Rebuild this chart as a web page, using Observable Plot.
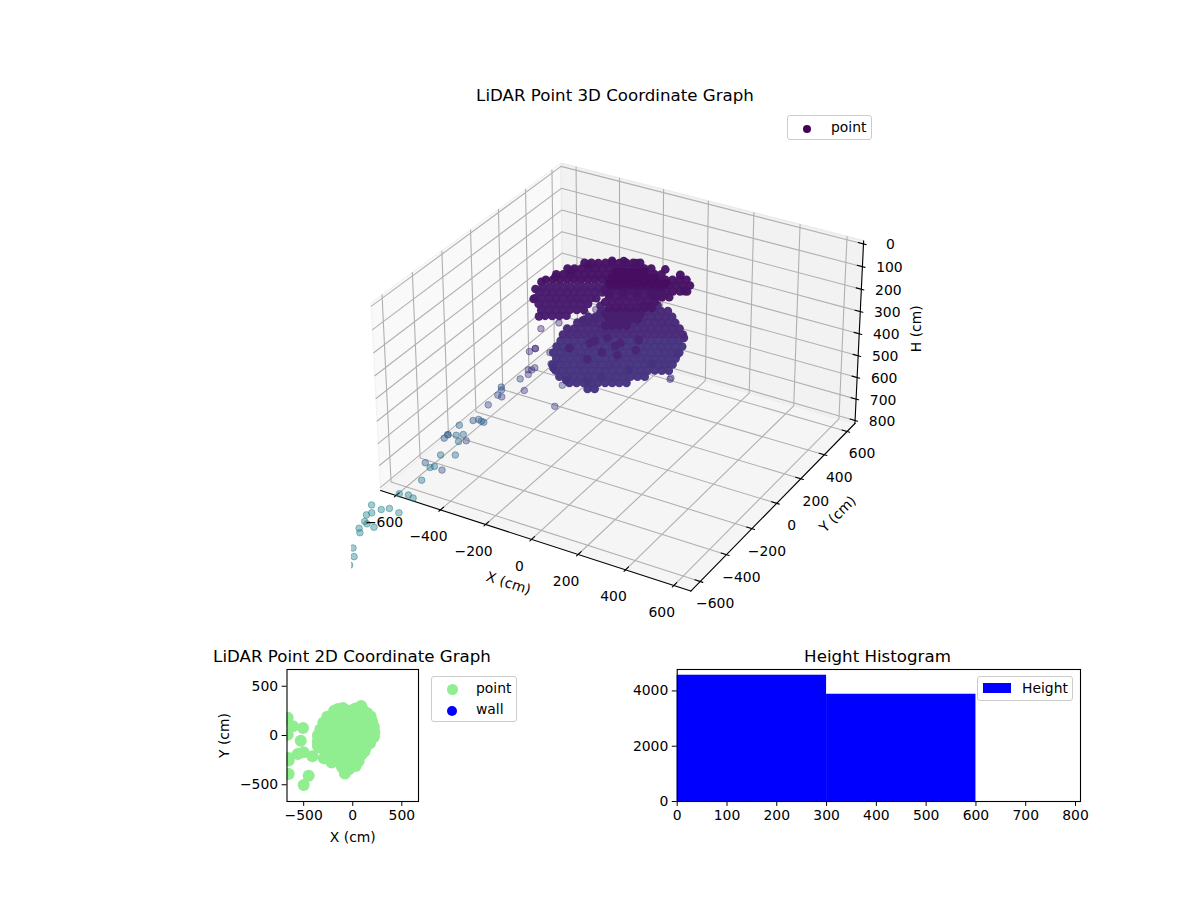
<!DOCTYPE html>
<html><head><meta charset="utf-8">
<script src="https://cdn.jsdelivr.net/npm/d3@7"></script>
<script src="https://cdn.jsdelivr.net/npm/@observablehq/plot@0.6"></script>
<style>
body{margin:0;background:#fff;font-family:"DejaVu Sans",sans-serif;color:#000}
#page{position:relative;width:1200px;height:900px;overflow:hidden}
#page svg{position:absolute;background:none}
.t{position:absolute;white-space:nowrap;transform:translate(-50%,-50%)}
.title{font-size:16.67px}
.lg{position:absolute;background:#fff;border:1px solid #ccc;border-radius:3px;box-sizing:border-box}
.lg span,.lg i{position:absolute}
.lg span{font-size:13.9px;line-height:14px;white-space:nowrap}
.lg i{display:block;border-radius:50%}
</style></head><body><div id="page"></div>
<script>
// ---------- values ----------
const xTicks=[-600,-400,-200,0,200,400,600];
const yTicks=[-600,-400,-200,0,200,400,600];
const hTicks=[0,100,200,300,400,500,600,700,800];
const histEdges=[0,300,600];
const histCounts=[4568,3880];
const hist2Dticks=[-500,0,500];

// isolated returns: [X, Y, H]
const outliers=[[-1258,77,1500],[-1203,68,1500],[-1178,92,1500],[-1125,84,1500],[-1233,3,1500],[-1223,27,1500],[-1211,-42,1500],[-1193,-52,1500],[-1153,-59,1500],[-1202,-96,1500],[-1180,-122,1500],[-1140,-230,1500],[-1100,-280,1500],[-1080,-340,1500],[-1060,-400,1500],[-1020,-460,1500],
[-1117,82,1400],[-1079,93,1400],[-1049,83,1400],[-962,25,1250],[-986,124,1250],[-975,140,1250],[-913,97,1150],[-861,127,1150],[-885,113,1050],[-884,198,1050],[-852,125,1050],[-831,145,1050],[-817,89,1050],[-734,134,950],[-721,132,950],
[-653,-391,836],[-653,-228,795],[-653,-255,796],[-500,-503,759],[-449,-408,661],[-561,-187,722],[-500,-170,640],[-663,7,852],[-530,-54,665],[-609,95,729],[-663,180,803],[-507,75,650],[-411,-211,555],
[-295,-232,480],[-355,-106,470],[-352,-86,480],[-350,-66,480],[-345,-122,480],[-324,-59,300],[-288,14,300],[-354,-55,400],[-289,-53,400],[-251,-27,550],[-203,-163,560],[-215,-275,248],[-270,-230,300],[-238,131,300],[-192,105,300],[-177,139,300],[-220,176,300],[86,299,120],[205,10,400],[215,-15,390],[-80,-385,220]];

// outer edge of the cloud: [X, Y, H]
const rim=[[-150,270,110],[-100,280,110],[-190,250,110],[-260,190,120],[-300,130,130],[-330,60,130],[-355,0,130],[30,275,100],[100,265,100],[160,190,120],[215,90,260],[220,30,300],[175,-80,300],[120,-160,300],[60,-260,300],[30,-310,300],[-40,-345,300],[-110,-320,280],[-250,-190,160],[-310,-130,130],[-345,-60,130],
[-129,57,200],[-102,11,200],[-93,-36,200],[-104,-77,200],[-128,-74,200]];

// lower mass, front rows: [X, Y]
const lowerFrontH=360;
const lowerFront=[[9,-274],[32,-261],
[-72,-270],[-49,-256],[-26,-243],[-3,-230],[20,-217],[43,-203],[66,-190],[89,-177],[112,-163],
[-128,-249],[-105,-235],[-82,-222],[-59,-209],[-36,-195],[-13,-182],[10,-169],[33,-156],[56,-142],[79,-129],[102,-116],[125,-103],[148,-89],
[-164,-217],[-141,-204],[-118,-191],[-95,-177],[-72,-164],[-49,-151],[-26,-138],[-3,-124],[20,-111],[43,-98],[66,-84],[89,-71],[112,-58],[135,-45],[158,-31],[181,-18],[204,-5],
[-197,-184],[-174,-171],[-151,-157],[-128,-144],[-105,-131],[-82,-117],[-59,-104],[-36,-91],[-13,-78],[10,-64],[33,-51],[56,-38],[79,-25],[102,-11],[125,2],[148,15],[171,29],[194,42],
[-209,-138],[-186,-125],[-163,-112],[-140,-98],[-117,-85],[-94,-72],[-71,-59],[-48,-45],[-25,-32],[-2,-19],[21,-5],[44,8],[67,21],[90,34],[113,48],[136,61],[159,74],[182,87],
[-242,-105],[-219,-92],[-196,-78],[-173,-65],[-150,-52],[-127,-38],[-104,-25],[-81,-12],[-58,1],[-35,15],[-12,28],[11,41],[34,54],[57,68],[80,81],[103,94],[126,108],[149,121],[172,134],
[-255,-59],[-232,-46],[-209,-33],[-186,-19],[-163,-6],[-140,7],[-117,20],[-94,34],[-71,47],[-48,60],[-25,74],[-2,87],[21,100],[44,113],[67,127],[90,140],[113,153],[136,166],[159,180],
[-265,-13],[-242,1],[-219,14],[-196,27],[-173,41],[-150,54],[-127,67],[-104,80],[-81,94],[-58,107],[-35,120],[-12,133],[11,147],[34,160],[57,173],[80,187],[103,200],[126,213]];

// lower mass, back rows: [X, Y]
const lowerBackH=260;
const lowerBack=[[-192,-115],[-169,-102],[-146,-88],[-123,-75],[-100,-62],[-77,-49],[-54,-35],[-31,-22],[-8,-9],[15,5],[38,18],[61,31],[84,44],[107,58],[130,71],[153,84],[176,97],[199,111],
[-202,-67],[-179,-54],[-156,-41],[-133,-27],[-110,-14],[-87,-1],[-64,12],[-41,26],[-18,39],[5,52],[28,65],[51,79],[74,92],[97,105],[120,119],[143,132],[166,145],
[-192,-9],[-169,4],[-146,17],[-123,30],[-100,44],[-77,57],[-54,70],[-31,84],[-8,97],[15,110],[38,123],[61,137],[84,150],[107,163],[130,176],
[-179,52],[-156,65],[-133,78],[-110,91],[-87,105],[-64,118],[-41,131],[-18,144],[5,158],[28,171],[51,184],[74,198],[97,211],
[-146,123],[-123,136],[-100,149],[-77,163],[-54,176],[-31,189],[-8,202],[15,216],[38,229],[61,242],[-41,236],[-18,249],[5,262]];

// darker returns scattered over the lower mass
const lowerSpecksH=230;
const lowerSpecks=[[-44,-166],[-36,-143],[29,-202],[9,-274],[-91,-237],[-7,-100],[49,-138],[54,-109],[90,-193],[130,-126],[102,-55]];

// upper band, lower part
const bandLowH=150;
const bandLow=[[-223,-190],[-200,-177],[-177,-164],[-154,-150],
[-259,-159],[-236,-145],[-213,-132],[-190,-119],[-167,-106],[-144,-92],[-121,-79],
[-292,-124],[-269,-111],[-246,-98],[-223,-85],[-200,-71],[-177,-58],[-154,-45],[-131,-31],
[-328,-93],[-305,-80],[-282,-66],[-259,-53],[-236,-40],[-213,-27],[-190,-13],[-167,0],[-144,13],[-127,23],
[-338,-45],[-315,-32],[-292,-19],[-269,-6],[-246,8],[-223,21],[-200,34],[-177,48],[-154,61],[-131,74],
[-350,-1],[-327,13],[-304,26],[-281,39],[-258,52],[-235,66],[-212,79],[-189,92],[-166,105],[-143,119]];

// upper band, top part and right arm
const bandTopH=90;
const bandTop=[[-311,-39],[-288,-26],[-265,-13],[-242,1],[-219,14],[-196,27],[-173,41],[-150,54],[-127,67],[-104,80],[-81,94],[-58,107],[-35,120],[-12,133],[11,147],[34,160],
[-300,19],[-277,32],[-254,45],[-231,59],[-208,72],[-185,85],[-162,98],[-139,112],[-116,125],[-93,138],[-70,152],[-47,165],[-24,178],[-1,191],[22,205],
[-287,80],[-264,93],[-241,106],[-218,120],[-195,133],[-172,146],[-149,159],[-126,173],[-103,186],[-80,199],[-57,212],[-34,226],[-11,239],
[-254,151],[-231,164],[-208,177],[-185,191],[-162,204],[-139,217],[-116,231],[-93,244],[-70,257],
[67,127],[90,140],[113,153],[136,166],[159,180],[182,193],
[57,173],[80,187],[103,200],[126,213],[149,226],
[80,81],[103,94],[126,108],[149,121],[172,134],[195,147],
[113,48],[136,61],[159,74],[45,218]];

// central column, by height
const columnTopH=60;
const columnTop=[[-85,101],[-62,114],[-39,127],[-16,140],[7,154],
[-75,53],[-52,66],[-29,80],[-6,93],[17,106],[40,119],[63,133],
[-62,8],[-39,22],[-16,35],[7,48],[30,61],[53,75],[76,88],[99,101],[122,115]];
const columnFillH=90;
const columnFill=[[-67,40],[-44,53],[-21,67],[2,80],[25,93],[48,106],[71,120],[94,133],[-77,88],[-54,101],[-31,114],[-8,128],[15,141],[38,154]];
const columnMidH=120;
const columnMid=[[-102,47],[-79,60],[-56,73],[-33,87],[-10,100],[13,113],[36,126],[59,140],[82,153],
[-77,34],[-31,61],[15,87],[61,114],
[-66,14],[-43,28],[-20,41],[3,54],[26,67],[49,81],[72,94],[95,107],
[-56,-32],[-33,-19],[-10,-6],[13,8],[36,21],[59,34],[82,47],[105,61],
[-20,-64],[3,-50],[26,-37],[49,-24],[72,-11],[95,3],[118,16]];
const columnLowH=180;
const columnLow=[[-64,-19],[-41,-6],[-18,7],[5,21],[28,34],[51,47],
[-28,-51],[-5,-37],[18,-24],[41,-11],[64,2],
[-18,-98],[5,-85],[28,-72],[51,-58]];

// ---------- 3D projection (elev 30, azim -60) ----------
const E=670, Hmin=-14, Hmax=814;
function proj(X,Y,H){
  const xb=X/E*.62, yb=Y/E*.62, zb=-(H-400)/414*.375;
  const xe=.866*xb+.5*yb, ye=-.25*xb+.433*yb+.866*zb, pw=.433*xb-.75*yb+.5*zb, d=10-pw;
  return [xe/d,ye/d];
}
const P=(X,Y,H,extra={})=>{const [px,py]=proj(X,Y,H);return {px,py,X,Y,H,...extra};};
const path=(id,pts)=>pts.map(p=>P(p[0],p[1],p[2],{id}));

const layer=(arr,h)=>arr.map(([x,y])=>P(x,y,h));
const outl=outliers.map(([x,y,h])=>P(x,y,h));
const core=[...rim.map(([x,y,h])=>P(x,y,h)),...layer(lowerFront,lowerFrontH),...layer(lowerBack,lowerBackH),...layer(lowerSpecks,lowerSpecksH),
  ...layer(bandLow,bandLowH),...layer(bandTop,bandTopH),...layer(columnLow,columnLowH),...layer(columnMid,columnMidH),...layer(columnFill,columnFillH),...layer(columnTop,columnTopH)];
const everything=[...outl,...core];

const grid=[
 ...xTicks.flatMap(v=>path("x"+v,[[v,-E,Hmax],[v,E,Hmax],[v,E,Hmin]])),
 ...yTicks.flatMap(v=>path("y"+v,[[E,v,Hmax],[-E,v,Hmax],[-E,v,Hmin]])),
 ...hTicks.flatMap(v=>path("h"+v,[[-E,-E,v],[-E,E,v],[E,E,v]]))];
const axisLines=[...path("ax",[[-E,-E,Hmax],[E,-E,Hmax]]),...path("ay",[[E,-E,Hmax],[E,E,Hmax]]),...path("ah",[[E,E,Hmax],[E,E,Hmin]])];
const tickLines=[
 ...xTicks.flatMap(v=>path("tx"+v,[[v,-E-11,Hmax],[v,-E+22,Hmax]])),
 ...yTicks.flatMap(v=>path("ty"+v,[[E+11,v,Hmax],[E-22,v,Hmax]])),
 ...hTicks.flatMap(v=>path("th"+v,[[E+11,E,v],[E-22,E,v]]))];
const fmt=d3.format("d");
const font={fontFamily:"DejaVu Sans",fontSize:13.9};
const pane=(pts,fill,stroke)=>Plot.line(pts.map(p=>P(...p)),{x:"px",y:"py",fill,stroke,strokeWidth:1.4});
const page=document.getElementById("page");

const plot3=Plot.plot({
  width:1200,height:636,marginLeft:351,marginRight:321.5,marginTop:108.5,marginBottom:.25,
  style:{background:"none",fontFamily:"DejaVu Sans"},
  x:{domain:[-.095,.09],axis:null},y:{domain:[-.095,.09],axis:null},
  color:{type:"pow",exponent:.8,scheme:"viridis",domain:[0,4000]},
  marks:[
   pane([[-E,-E,Hmax],[-E,E,Hmax],[-E,E,Hmin],[-E,-E,Hmin],[-E,-E,Hmax]],"#f9f9f9","#f3f3f3"),
   pane([[-E,E,Hmax],[E,E,Hmax],[E,E,Hmin],[-E,E,Hmin],[-E,E,Hmax]],"#f2f2f2","#ebebeb"),
   pane([[-E,-E,Hmax],[E,-E,Hmax],[E,E,Hmax],[-E,E,Hmax],[-E,-E,Hmax]],"#f5f5f5","#eeeeee"),
   Plot.line(grid,{x:"px",y:"py",z:"id",stroke:"#b0b0b0",strokeWidth:1.1}),
   Plot.line(axisLines,{x:"px",y:"py",z:"id",stroke:"#000",strokeWidth:1.1}),
   Plot.line(tickLines,{x:"px",y:"py",z:"id",stroke:"#000",strokeWidth:1.1}),
   Plot.dot(outl,{x:"px",y:"py",fill:"H",stroke:"H",r:3.3,fillOpacity:.42,strokeOpacity:.5,strokeWidth:1,clip:true}),
   Plot.dot(core,{x:"px",y:"py",fill:"H",stroke:"none",r:4.3,fillOpacity:.97}),
   Plot.text(xTicks.map(v=>P(v,-E,Hmax,{s:fmt(v)})),{x:"px",y:"py",text:"s",dx:-12,dy:27,...font,fill:"#000"}),
   Plot.text(yTicks.map(v=>P(E,v,Hmax,{s:fmt(v)})),{x:"px",y:"py",text:"s",dx:15,dy:22.5,...font,fill:"#000"}),
   Plot.text(hTicks.map(v=>P(E,E,v,{s:fmt(v)})),{x:"px",y:"py",text:"s",dx:27,dy:1,...font,fill:"#000"}),
   Plot.text([P(0,-E,Hmax,{s:"X (cm)"})],{x:"px",y:"py",text:"s",dx:-23,dy:44,rotate:18,...font,fill:"#000"}),
   Plot.text([P(E,0,Hmax,{s:"Y (cm)"})],{x:"px",y:"py",text:"s",dx:61,dy:11,rotate:-45,...font,fill:"#000"}),
   Plot.text([P(E,E,400,{s:"H (cm)"})],{x:"px",y:"py",text:"s",dx:57,dy:-5,rotate:-90,...font,fill:"#000"})
  ]});
plot3.style.left="0";plot3.style.top="0";page.append(plot3);

const ax={tickSize:4.9,tickPadding:4,...font,stroke:"#000",labelArrow:"none",labelAnchor:"center"};
const plot2=Plot.plot({
  width:330,height:210,marginLeft:86.5,marginRight:112,marginTop:29,marginBottom:49,
  style:{background:"none",fontFamily:"DejaVu Sans"},
  x:{domain:[-670,670],axis:null},y:{domain:[-670,670],axis:null},
  marks:[
   Plot.dot(everything,{x:"X",y:"Y",r:6,fill:"#90ee90",clip:true}),
   Plot.frame({stroke:"#000",strokeWidth:1.1}),
   Plot.axisX({...ax,ticks:hist2Dticks,tickFormat:fmt,label:"X (cm)",labelOffset:40}),
   Plot.axisY({...ax,ticks:hist2Dticks,tickFormat:fmt,label:"Y (cm)",labelOffset:68})
  ]});
plot2.style.left="200px";plot2.style.top="640px";page.append(plot2);

const bins=histCounts.map((c,i)=>({x1:histEdges[i],x2:histEdges[i+1],c}));
const plotH=Plot.plot({
  width:500,height:210,marginLeft:76.7,marginRight:20,marginTop:29,marginBottom:49,
  style:{background:"none",fontFamily:"DejaVu Sans"},
  x:{domain:[0,810],axis:null},y:{domain:[0,4775],axis:null},
  marks:[
   Plot.rectY(bins,{x1:"x1",x2:"x2",y:"c",fill:"#0000ff",inset:0}),
   Plot.frame({stroke:"#000",strokeWidth:1.1}),
   Plot.axisX({...ax,ticks:d3.range(0,801,100),tickFormat:fmt,label:null}),
   Plot.axisY({...ax,ticks:[0,2000,4000],tickFormat:fmt,label:null})
  ]});
plotH.style.left="600px";plotH.style.top="640px";page.append(plotH);

// titles and legends
function add(html){const t=document.createElement("template");t.innerHTML=html;page.append(t.content.firstChild);}
add(`<div class="t title" style="left:615px;top:95px">LiDAR Point 3D Coordinate Graph</div>`);
add(`<div class="t title" style="left:352px;top:656px">LiDAR Point 2D Coordinate Graph</div>`);
add(`<div class="t title" style="left:877.5px;top:656px">Height Histogram</div>`);
add(`<div class="lg" style="left:787px;top:115px;width:85px;height:25px"><i style="left:14.5px;top:8.5px;width:8px;height:8px;background:#440154"></i><span style="left:43px;top:4px">point</span></div>`);
add(`<div class="lg" style="left:431px;top:676px;width:86px;height:46px"><i style="left:14.5px;top:7px;width:11px;height:11px;background:#90ee90"></i><span style="left:44px;top:4px">point</span><i style="left:15px;top:29px;width:10px;height:10px;background:#0000ff"></i><span style="left:44px;top:25px">wall</span></div>`);
add(`<div class="lg" style="left:977px;top:676px;width:96px;height:25px"><i style="left:5px;top:6px;width:28px;height:10px;background:#0000ff;border-radius:0"></i><span style="left:44px;top:4px">Height</span></div>`);
</script></body></html>
